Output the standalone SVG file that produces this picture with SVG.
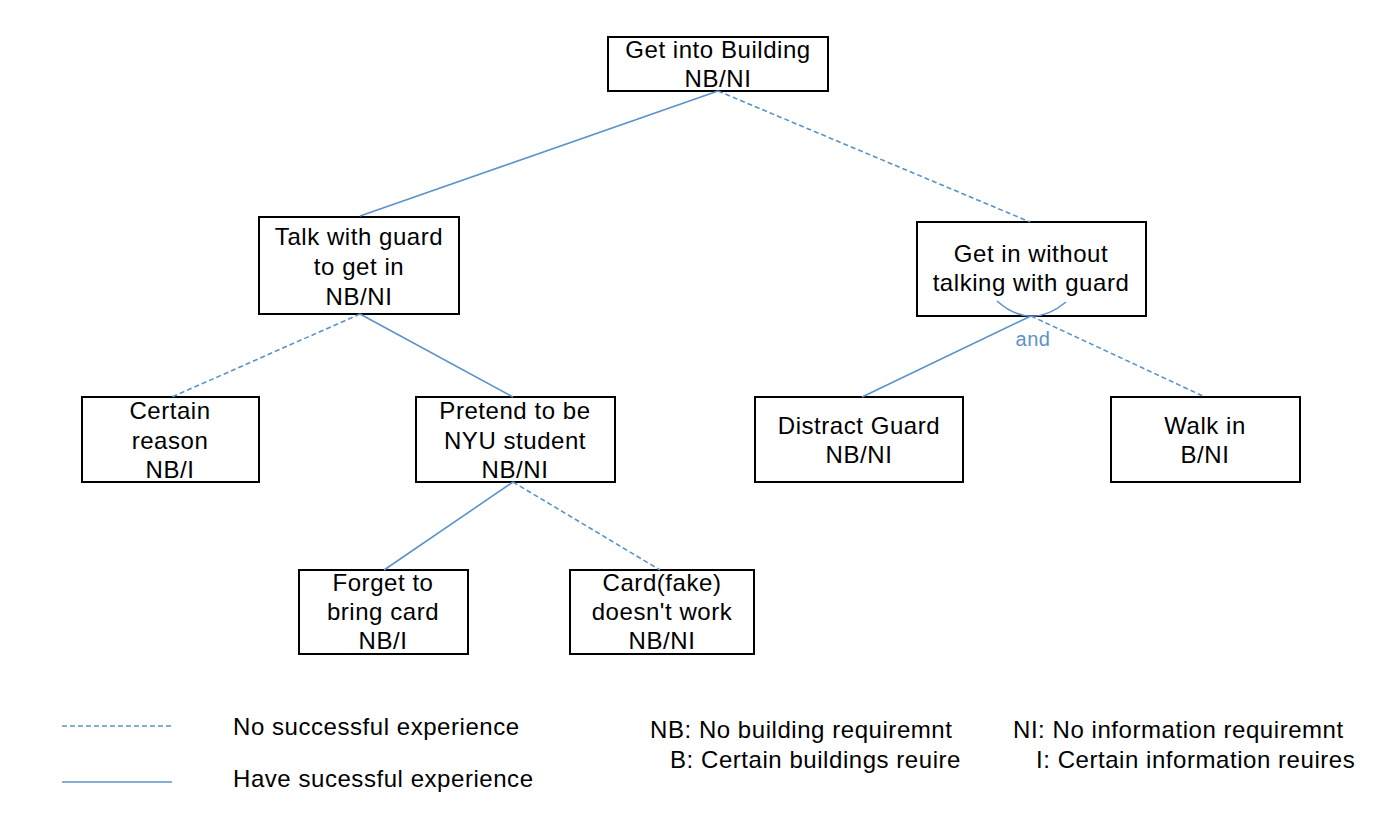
<svg xmlns="http://www.w3.org/2000/svg" width="1386" height="816" viewBox="0 0 1386 816">
<style>
text{font-family:"Liberation Sans",Arial,sans-serif;font-size:24px;letter-spacing:0.55px;fill:#000;text-anchor:middle}
.box{fill:#fff;stroke:#000;stroke-width:2}
.s{stroke:#5b93c8;stroke-width:1.6;fill:none}
.d{stroke:#5b93c8;stroke-width:1.6;fill:none;stroke-dasharray:5,3}
.lg{text-anchor:start}
</style>
<rect width="1386" height="816" fill="#fff"/>
<g id="n-root"><rect class="box" x="608" y="37" width="220" height="54"/><text x="718" y="58">Get into Building</text><text x="718" y="87">NB/NI</text></g>
<g id="n-talk"><rect class="box" x="259" y="217" width="200" height="97"/><text x="359" y="245">Talk with guard</text><text x="359" y="275">to get in</text><text x="359" y="305">NB/NI</text></g>
<g id="n-without"><rect class="box" x="917" y="222" width="229" height="94"/><text x="1031" y="262">Get in without</text><text x="1031" y="291">talking with guard</text></g>
<g id="n-certain"><rect class="box" x="82" y="397" width="177" height="85"/><text x="170" y="419">Certain</text><text x="170" y="449">reason</text><text x="170" y="478">NB/I</text></g>
<g id="n-pretend"><rect class="box" x="416" y="397" width="199" height="85"/><text x="515" y="419">Pretend to be</text><text x="515" y="449">NYU student</text><text x="515" y="478">NB/NI</text></g>
<g id="n-distract"><rect class="box" x="755" y="397" width="208" height="85"/><text x="859" y="434">Distract Guard</text><text x="859" y="463">NB/NI</text></g>
<g id="n-walk"><rect class="box" x="1111" y="397" width="189" height="85"/><text x="1205" y="434">Walk in</text><text x="1205" y="463">B/NI</text></g>
<g id="n-forget"><rect class="box" x="299" y="570" width="169" height="84"/><text x="383" y="591">Forget to</text><text x="383" y="620">bring card</text><text x="383" y="649">NB/I</text></g>
<g id="n-card"><rect class="box" x="570" y="570" width="184" height="84"/><text x="662" y="591">Card(fake)</text><text x="662" y="620">doesn't work</text><text x="662" y="649">NB/NI</text></g>
<g id="connectors">
<line class="s" x1="718" y1="91" x2="360" y2="216"/>
<line class="d" x1="718" y1="91" x2="1030" y2="222"/>
<line class="d" x1="360" y1="314" x2="172" y2="397"/>
<line class="s" x1="360" y1="314" x2="513" y2="397"/>
<line class="s" x1="1031" y1="316" x2="862" y2="397"/>
<line class="d" x1="1031" y1="316" x2="1205" y2="397"/>
<line class="s" x1="513" y1="482" x2="384" y2="570"/>
<line class="d" x1="513" y1="482" x2="660" y2="570"/>
<path class="s" d="M997 301 Q1031 331 1066 302"/>
<text x="1033" y="346" style="fill:#5b93c8;font-size:20px">and</text>
</g>
<g id="legend">
<line class="d" x1="62" y1="726" x2="172" y2="726"/>
<line class="s" x1="62" y1="782" x2="172" y2="782"/>
<text class="lg" x="233" y="735">No successful experience</text>
<text class="lg" x="233" y="787">Have sucessful experience</text>
<text class="lg" x="650" y="738">NB: No building requiremnt</text>
<text class="lg" x="670" y="768">B: Certain buildings reuire</text>
<text class="lg" x="1013" y="738">NI: No information requiremnt</text>
<text class="lg" x="1036" y="768">I: Certain information reuires</text>
</g>
</svg>
